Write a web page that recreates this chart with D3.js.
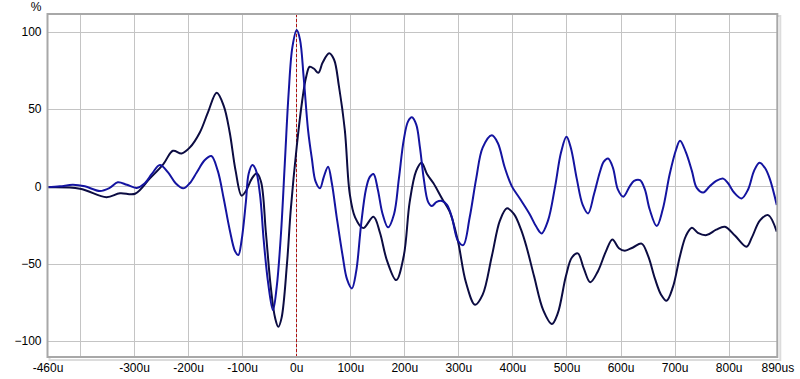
<!DOCTYPE html>
<html>
<head>
<meta charset="utf-8">
<script src="https://cdn.jsdelivr.net/npm/d3@7"></script>
<style>
  html, body { margin: 0; padding: 0; background: #ffffff; }
  svg { display: block; }
  text { font-family: "Liberation Sans", Arial, sans-serif; font-size: 12px; fill: #000; }
</style>
</head>
<body>
<svg id="chart" width="800" height="379"></svg>
<script>
// ---- data (time in microseconds, value in %) ----
const darkTime = [-460,-400,-351,-326,-298,-271,-246,-228,-212,-197,-178,-163,-147,-134,-123,-112,-101,-93,-82,-73,-65,-56,-47,-39,-33,-27,-17,-10,1,11,18,25,33,41,49,61,70,79,90,99,109,124,143,155,168,185,199,210,222,232,242,254,270,284,299,314,331,345,362,377,390,403,416,426,440,457,473,484,499,510,521,532,544,558,573,585,597,608,623,639,651,664,675,685,697,710,721,732,743,759,777,793,812,833,843,858,873,889];
const darkPct  = [-0.6,-1.5,-7,-4.5,-4.8,5,14.2,23,21.3,25,35,48,60.5,52,35,10,-6,-3,5,8.4,3,-30,-65,-85,-90.8,-85,-50,-15,25.6,55,70,77.3,76,73.4,80,86,82,65,36.4,-4.5,-20,-27,-19.6,-30,-48,-60.6,-45,-10,10,15.3,8,2,-8,-16.4,-35,-62,-76.5,-70,-45,-22,-14.2,-18,-28,-39,-58,-80,-89,-82,-58,-46,-43.3,-53,-62,-55,-42,-34.3,-40,-41.6,-39.5,-37,-45,-60,-70,-74,-65,-45,-32,-26.8,-30,-31.5,-28,-26.1,-32,-39,-33,-22,-18.6,-29.3];

const blueTime = [-460,-437,-413,-391,-363,-345,-330,-313,-295,-280,-267,-252,-237,-223,-209,-197,-184,-169,-157,-145,-134,-123,-113,-107,-101,-93,-88,-81,-75,-67,-60,-52,-43,-36,-28,-21,-14,-7,1,7,14,22,29,36,44,51,59,66,75,86,94,103,111,120,129,136,143,151,160,170,181,190,199,207,214,222,229,236,244,251,260,270,279,288,299,309,321,333,345,362,373,386,399,414,432,444,454,466,479,490,500,508,519,530,540,551,562,569,577,586,595,605,617,625,636,645,654,667,678,691,703,710,721,732,741,753,765,777,790,799,810,824,836,847,857,867,876,889];
const bluePct  = [-0.5,0,1,0,-3,-1,2.6,1,-1,2,8,13.8,9,2,-1.3,2,9,17,19.6,10,-8,-28,-42,-44.4,-35,-10,8,13.8,11,-5,-35,-62,-80,-65,-30,15,60,90,101,95,70,36.4,18,3,-1.3,6,12.7,2,-20,-45,-60,-66,-55,-25,-2,6,8,-2,-18,-26.5,-18,5,30,42,44.6,40,25,5,-10,-12.7,-10,-9.5,-12,-20,-35,-38,-20,5,25,33,28,12,0,-8,-18,-26,-30.4,-22,0,22,32,25,5,-12,-17.5,-5,9.4,16,18,12,-2,-6.7,0,3.5,4,-2,-15,-25.7,-15,8,24,29.5,22,10,-1,-4,0,3.5,5,2,-4,-7.8,-2,10,15.3,12,5,-12];

const xTickVals   = [-460,-300,-200,-100,0,100,200,300,400,500,600,700,800,890];
const xTickLabels = ["-460u","-300u","-200u","-100u","0u","100u","200u","300u","400u","500u","600u","700u","800u","890us"];
const xGridVals   = [-400,-300,-200,-100,0,100,200,300,400,500,600,700,800];
const yTickVals   = [-100,-50,0,50,100];
const yUnit = "%";

// ---- layout ----
const svg = d3.select("#chart");
const L = 47.5, R = 777.3, T = 14, B = 357;
const x = d3.scaleLinear().domain([-460, 890]).range([L, R]);
const y = d3.scaleLinear().domain([-110.3, 111.4]).range([B, T]);

// shadow of frame
svg.append("rect").attr("x", L + 2).attr("y", T + 2).attr("width", R - L + 1).attr("height", B - T + 1)
  .attr("fill", "none").attr("stroke", "#dcdcdc").attr("stroke-width", 2);
svg.append("rect").attr("x", L).attr("y", T).attr("width", R - L).attr("height", B - T).attr("fill", "#fff");

// grid
const grid = svg.append("g");
grid.selectAll("line.gx").data(xGridVals).join("line")
  .attr("x1", d => Math.round(x(d)) + 0.5).attr("x2", d => Math.round(x(d)) + 0.5)
  .attr("y1", T).attr("y2", B).attr("stroke", "#c4c4c4").attr("stroke-width", 1);
grid.selectAll("line.gy").data(yTickVals).join("line")
  .attr("y1", d => Math.round(y(d)) + 0.5).attr("y2", d => Math.round(y(d)) + 0.5)
  .attr("x1", L).attr("x2", R).attr("stroke", "#c4c4c4").attr("stroke-width", 1);

// zero-time marker
svg.append("line").attr("x1", Math.round(x(0)) + 0.5).attr("x2", Math.round(x(0)) + 0.5)
  .attr("y1", T).attr("y2", B).attr("stroke", "#b01010").attr("stroke-width", 1)
  .attr("stroke-dasharray", "3,2");

// clip
svg.append("clipPath").attr("id", "clip").append("rect")
  .attr("x", L).attr("y", T).attr("width", R - L).attr("height", B - T);

const line = d3.line().x(d => x(d[0])).y(d => y(d[1])).curve(d3.curveCatmullRom.alpha(0.5));
const darkData = darkTime.map((t, i) => [t, darkPct[i]]);
const blueData = blueTime.map((t, i) => [t, bluePct[i]]);

const plot = svg.append("g").attr("clip-path", "url(#clip)");
plot.append("path").datum(darkData).attr("d", line).attr("fill", "none")
  .attr("stroke", "#0c0c42").attr("stroke-width", 2).attr("stroke-linejoin", "round");
plot.append("path").datum(blueData).attr("d", line).attr("fill", "none")
  .attr("stroke", "#1414a0").attr("stroke-width", 2).attr("stroke-linejoin", "round");

// frame
svg.append("rect").attr("x", L).attr("y", T).attr("width", R - L).attr("height", B - T)
  .attr("fill", "none").attr("stroke", "#a8a8a8").attr("stroke-width", 2);

// axes labels
const xAxis = d3.axisBottom(x).tickValues(xTickVals).tickSize(0).tickPadding(0)
  .tickFormat((d, i) => xTickLabels[i]);
const gx = svg.append("g").attr("transform", `translate(0,${B})`).call(xAxis);
gx.select(".domain").remove();
gx.selectAll("text").attr("dy", null).attr("y", 15).style("font-family", '"Liberation Sans", Arial, sans-serif').style("font-size", "12px").attr("fill", "#000");

const yAxis = d3.axisLeft(y).tickValues(yTickVals).tickSize(0).tickPadding(6);
const gy = svg.append("g").attr("transform", `translate(${L},0)`).call(yAxis);
gy.select(".domain").remove();
gy.selectAll("text").style("font-family", '"Liberation Sans", Arial, sans-serif').style("font-size", "12px").attr("fill", "#000");

svg.append("text").attr("x", 36).attr("y", 11).attr("text-anchor", "middle").text(yUnit);
</script>
</body>
</html>
